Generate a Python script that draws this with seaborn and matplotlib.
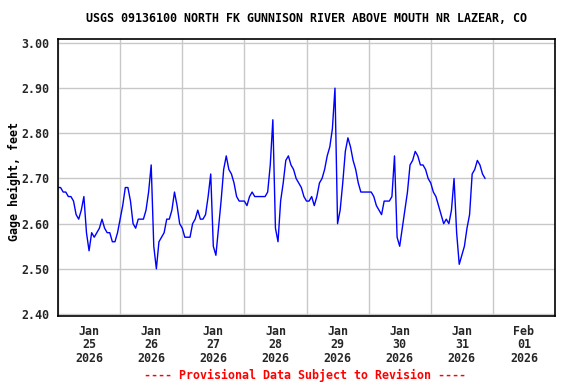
import matplotlib
matplotlib.use("Agg")
import matplotlib.pyplot as plt
import matplotlib.dates as mdates
from matplotlib.ticker import FormatStrFormatter, NullFormatter
import seaborn as sns
import pandas as pd
import numpy as np

# Hourly gage height readings (feet), starting 2026-01-25 00:00
jan25 = [2.68, 2.68, 2.67, 2.67, 2.66, 2.66, 2.65, 2.62, 2.61, 2.63, 2.66, 2.58,
         2.54, 2.58, 2.57, 2.58, 2.59, 2.61, 2.59, 2.58, 2.58, 2.56, 2.56, 2.58]
jan26 = [2.61, 2.64, 2.68, 2.68, 2.65, 2.60, 2.59, 2.61, 2.61, 2.61, 2.63, 2.67,
         2.73, 2.55, 2.50, 2.56, 2.57, 2.58, 2.61, 2.61, 2.63, 2.67, 2.64, 2.60]
jan27 = [2.59, 2.57, 2.57, 2.57, 2.60, 2.61, 2.63, 2.61, 2.61, 2.62, 2.66, 2.71,
         2.55, 2.53, 2.59, 2.65, 2.72, 2.75, 2.72, 2.71, 2.69, 2.66, 2.65, 2.65]
jan28 = [2.65, 2.64, 2.66, 2.67, 2.66, 2.66, 2.66, 2.66, 2.66, 2.67, 2.73, 2.83,
         2.59, 2.56, 2.65, 2.69, 2.74, 2.75, 2.73, 2.72, 2.70, 2.69, 2.68, 2.66]
jan29 = [2.65, 2.65, 2.66, 2.64, 2.66, 2.69, 2.70, 2.72, 2.75, 2.77, 2.81, 2.90,
         2.60, 2.63, 2.69, 2.76, 2.79, 2.77, 2.74, 2.72, 2.69, 2.67, 2.67, 2.67]
jan30 = [2.67, 2.67, 2.66, 2.64, 2.63, 2.62, 2.65, 2.65, 2.65, 2.66, 2.75, 2.57,
         2.55, 2.59, 2.63, 2.67, 2.73, 2.74, 2.76, 2.75, 2.73, 2.73, 2.72, 2.70]
jan31 = [2.69, 2.67, 2.66, 2.64, 2.62, 2.60, 2.61, 2.60, 2.63, 2.70, 2.58, 2.51,
         2.53, 2.55, 2.59, 2.62, 2.71, 2.72, 2.74, 2.73, 2.71, 2.70]

x_tick_dates = ["2026-01-25 12:00", "2026-01-26 12:00", "2026-01-27 12:00", "2026-01-28 12:00",
                "2026-01-29 12:00", "2026-01-30 12:00", "2026-01-31 12:00", "2026-02-01 12:00"]
x_tick_labels = ["Jan\n25\n2026", "Jan\n26\n2026", "Jan\n27\n2026", "Jan\n28\n2026",
                 "Jan\n29\n2026", "Jan\n30\n2026", "Jan\n31\n2026", "Feb\n01\n2026"]
y_ticks = [2.40, 2.50, 2.60, 2.70, 2.80, 2.90, 3.00]

values = jan25 + jan26 + jan27 + jan28 + jan29 + jan30 + jan31
times = pd.date_range("2026-01-25 00:00", periods=len(values), freq="h")
df = pd.DataFrame({"time": times, "gage": values})

sns.set_theme(style="white")
plt.rcParams['font.family'] = ['DejaVu Sans Mono']
plt.rcParams['font.weight'] = 'bold'

FS = 8.4

fig = plt.figure(figsize=(5.76, 3.84), dpi=100)
fig.patch.set_facecolor("white")
ax = fig.add_axes([58/576, 1 - 316/384, (555 - 58)/576, (316 - 39)/384])

sns.lineplot(data=df, x="time", y="gage", ax=ax, color="#0000ff", linewidth=1.0)

ax.set_xlim(pd.Timestamp("2026-01-25"), pd.Timestamp("2026-02-02"))
ax.set_ylim(2.3956, 3.0088)
ax.set_yticks(y_ticks)
ax.yaxis.set_major_formatter(FormatStrFormatter('%.2f'))
ax.xaxis.set_major_locator(mdates.DayLocator())
ax.xaxis.set_major_formatter(NullFormatter())
ax.set_xticks(pd.to_datetime(x_tick_dates), x_tick_labels, minor=True)
ax.grid(True, which='major', color='#c8c8c8', linewidth=1.0)
ax.set_axisbelow(True)
ax.tick_params(which='both', length=0)
ax.tick_params(axis='x', which='minor', pad=6.5, labelsize=FS)
ax.tick_params(axis='y', pad=6, labelsize=FS)
for lab in ax.get_xticklabels(minor=True):
    lab.set_linespacing(1.03)
    lab.set_fontweight('bold')
for lab in ax.get_yticklabels():
    lab.set_fontweight('bold')
for sp in ax.spines.values():
    sp.set_color("black")
    sp.set_linewidth(1.2)
ax.set_xlabel("")
ax.set_ylabel("")

fig.text(306/576, 1 - 19/384, "USGS 09136100 NORTH FK GUNNISON RIVER ABOVE MOUTH NR LAZEAR, CO",
         ha="center", va="center", fontsize=FS, fontweight="bold", color="black")
fig.text(14/576, 1 - 182/384, "Gage height, feet", rotation=90,
         ha="center", va="center", fontsize=FS, fontweight="bold", color="black")
fig.text(305/576, 1 - 375/384, "---- Provisional Data Subject to Revision ----",
         ha="center", va="center", fontsize=FS, fontweight="bold", color="#ff0000")

fig.savefig("out.png", dpi=100, facecolor="white")
